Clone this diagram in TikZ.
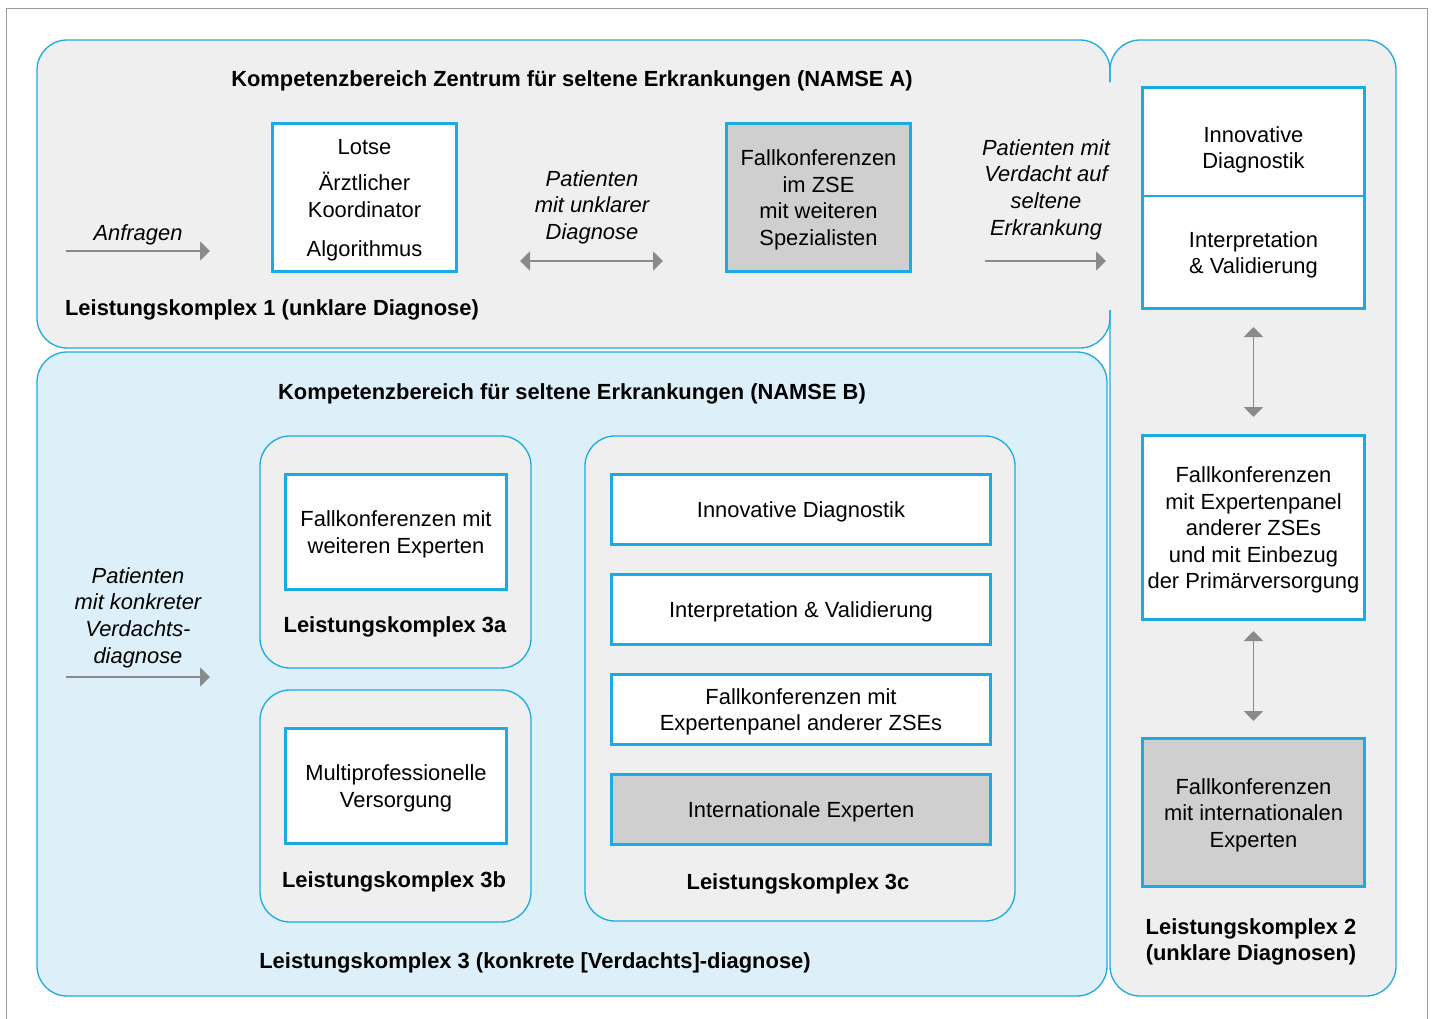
\documentclass[tikz,border=0pt]{standalone}
\usepackage{fontspec}
\setmainfont{Liberation Sans}
\usetikzlibrary{arrows.meta}
\definecolor{zblue}{HTML}{1AABE2}
\definecolor{pgray}{HTML}{EFEFEF}
\definecolor{lblue}{HTML}{DDF0FA}
\definecolor{bgray}{HTML}{CFCFCF}
\definecolor{agray}{HTML}{8A8A8A}
\definecolor{fgray}{HTML}{9C9C9C}
\newcommand\myfs{\fontsize{21.9}{26.6}\selectfont}
\tikzset{
 panel/.style={draw=zblue, line width=1.3pt, rounded corners=30pt},
 subpanel/.style={draw=zblue, line width=1.3pt, rounded corners=30pt, fill=pgray, inner sep=0pt},
 wbox/.style={draw=zblue, line width=2.6pt, fill=white, inner sep=0pt},
 gbox/.style={wbox, fill=bgray},
 txt/.style={inner sep=0pt, align=center, font=\myfs, yshift=-2.5pt},
 btxt/.style={txt, font=\myfs\bfseries},
 itxt/.style={txt, font=\myfs\itshape},
 arr/.style={draw=agray, line width=1.8pt, -{Triangle[length=10pt,width=19pt]}},
 darr/.style={draw=agray, line width=1.8pt, {Triangle[length=10pt,width=19pt]}-{Triangle[length=10pt,width=19pt]}},
}
\begin{document}
\begin{tikzpicture}[x=1pt,y=-1pt]
\useasboundingbox (0,0) rectangle (1433,1018);
\fill[white] (0,0) rectangle (1433,1018);
\draw[fgray, line width=1pt] (6,1030) -- (6,8) -- (1427,8) -- (1427,1030);
% panels
\fill[pgray, rounded corners=30pt] (1110,40) rectangle (1396,996);
\fill[pgray, rounded corners=30pt] (37,40) rectangle (1110,348);
\draw[panel, fill=lblue] (37,352) rectangle (1107,996);
\draw[panel] (1110,82) -- (1110,40) -- (37,40) -- (37,348) -- (1110,348) -- (1110,310);
\draw[panel] (1110,82) -- (1110,40) -- (1396,40) -- (1396,996) -- (1110,996) -- (1110,310);

% ---------- top panel (NAMSE A)
\node[btxt] (titleA) at (572,78) {Kompetenzbereich Zentrum für seltene Erkrankungen (NAMSE A)};
\node[itxt] (anfragen) at (138,232) {Anfragen};
\coordinate (a1s) at (66,251);
\coordinate (a1e) at (210,251);
\draw[arr] (a1s) -- (a1e);
\node[wbox, minimum width=184pt, minimum height=148pt] (lotse) at (364.5,197.5) {};
\node[txt] (lotset) at (lotse.center) {Lotse\\[10.3pt]Ärztlicher\\Koordinator\\[12.3pt]Algorithmus};
\node[itxt] (unklar) at (592,204.5) {Patienten\\mit unklarer\\Diagnose};
\coordinate (a2s) at (520,261);
\coordinate (a2e) at (663,261);
\draw[darr] (a2s) -- (a2e);
\node[gbox, minimum width=184pt, minimum height=148pt] (zse) at (818.5,197.5) {};
\node[txt] (zset) at (zse.center) {Fallkonferenzen\\im ZSE\\mit weiteren\\Spezialisten};
\node[itxt] (verdacht) at (1046,187) {Patienten mit\\Verdacht auf\\seltene\\Erkrankung};
\coordinate (a3s) at (985,261);
\coordinate (a3e) at (1106,261);
\draw[arr] (a3s) -- (a3e);
\node[btxt] (lk1) at (272,307) {Leistungskomplex 1 (unklare Diagnose)};

% ---------- right panel (LK 2)
\node[wbox, minimum width=222pt, minimum height=108.7pt] (innov) at (1253.5,141.65) {};
\node[txt] (innovt) at (1253.5,147.5) {Innovative\\Diagnostik};
\node[wbox, minimum width=222pt, minimum height=112.7pt] (interp) at (1253.5,252.35) {};
\node[txt] (interpt) at (interp.center) {Interpretation\\\& Validierung};
\coordinate (v1s) at (1253.5,327);
\coordinate (v1e) at (1253.5,417);
\draw[darr] (v1s) -- (v1e);
\node[wbox, minimum width=222pt, minimum height=184.4pt] (panelzse) at (1253.5,527.5) {};
\node[txt] (panelzset) at (panelzse.center)
  {Fallkonferenzen\\mit Expertenpanel\\anderer ZSEs\\und mit Einbezug\\der Primärversorgung};
\coordinate (v2s) at (1253.5,631);
\coordinate (v2e) at (1253.5,721);
\draw[darr] (v2s) -- (v2e);
\node[gbox, minimum width=222pt, minimum height=148.4pt] (intl) at (1253.5,812.5) {};
\node[txt] (intlt) at (intl.center) {Fallkonferenzen\\mit internationalen\\Experten};
\node[btxt] (lk2) at (1251,939.5) {Leistungskomplex 2\\(unklare Diagnosen)};

% ---------- blue panel (NAMSE B)
\node[btxt] (titleB) at (572,391) {Kompetenzbereich für seltene Erkrankungen (NAMSE B)};
\node[itxt] (konkret) at (138,615) {Patienten\\mit konkreter\\Verdachts-\\diagnose};
\coordinate (a4s) at (66,677);
\coordinate (a4e) at (210,677);
\draw[arr] (a4s) -- (a4e);

\node[subpanel, minimum width=271pt, minimum height=232pt] (p3a) at (395.5,552) {};
\node[wbox, minimum width=221pt, minimum height=115pt] (fk3a) at (396,532) {};
\node[txt] (fk3at) at (fk3a.center) {Fallkonferenzen mit\\weiteren Experten};
\node[btxt] (lk3a) at (395,624) {Leistungskomplex 3a};

\node[subpanel, minimum width=271pt, minimum height=232pt] (p3b) at (395.5,806) {};
\node[wbox, minimum width=221pt, minimum height=115pt] (mp3b) at (396,786) {};
\node[txt] (mp3bt) at (mp3b.center) {Multiprofessionelle\\Versorgung};
\node[btxt] (lk3b) at (394,879) {Leistungskomplex 3b};

\node[subpanel, minimum width=430pt, minimum height=485pt] (p3c) at (800,678.5) {};
\node[wbox, minimum width=379pt, minimum height=70pt] (c1) at (801,509.5) {};
\node[txt] (c1t) at (c1.center) {Innovative Diagnostik};
\node[wbox, minimum width=379pt, minimum height=70pt] (c2) at (801,609.5) {};
\node[txt] (c2t) at (c2.center) {Interpretation \& Validierung};
\node[wbox, minimum width=379pt, minimum height=70pt] (c3) at (801,709.5) {};
\node[txt] (c3t) at (c3.center) {Fallkonferenzen mit\\Expertenpanel anderer ZSEs};
\node[gbox, minimum width=379pt, minimum height=70pt] (c4) at (801,809.5) {};
\node[txt] (c4t) at (c4.center) {Internationale Experten};
\node[btxt] (lk3c) at (798,881) {Leistungskomplex 3c};

\node[btxt] (lk3) at (535,960) {Leistungskomplex 3 (konkrete [Verdachts]-diagnose)};
\end{tikzpicture}
\end{document}
